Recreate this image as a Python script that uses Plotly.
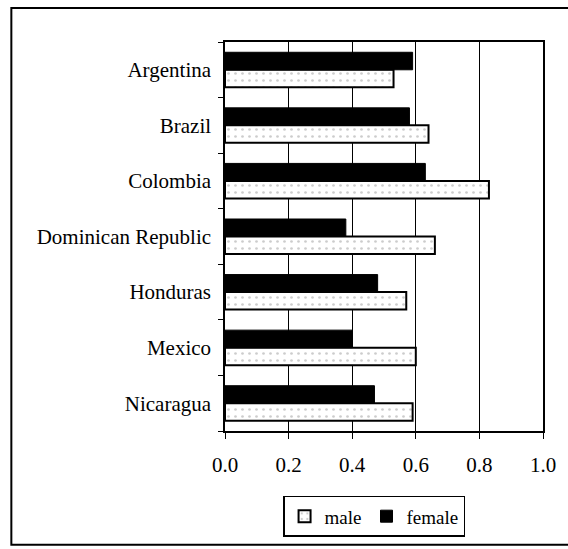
import plotly.graph_objects as go

countries = ["Argentina", "Brazil", "Colombia", "Dominican Republic",
             "Honduras", "Mexico", "Nicaragua"]
male = [0.53, 0.64, 0.83, 0.66, 0.57, 0.60, 0.59]
female = [0.59, 0.58, 0.63, 0.38, 0.48, 0.40, 0.47]
x_ticks = [0.0, 0.2, 0.4, 0.6, 0.8, 1.0]
x_tick_text = ["0.0", "0.2", "0.4", "0.6", "0.8", "1.0"]

FONT = "Liberation Serif"

fig = go.Figure()
fig.add_trace(go.Bar(
    name="male", y=countries, x=male, orientation="h",
    marker=dict(
        color="white",
        line=dict(color="black", width=2),
        pattern=dict(shape=".", size=7, solidity=0.12,
                     fgcolor="#999999", bgcolor="white"),
    ),
))
fig.add_trace(go.Bar(
    name="female", y=countries, x=female, orientation="h",
    marker=dict(color="black", line=dict(color="black", width=1)),
))

W, H = 568, 549
L, R, T, B = 225, 23, 42, 117
pw, ph = W - L - R, H - T - B


def px_to_paper(px, py):
    return (px - L) / pw, (H - B - py) / ph


# outer frame around the whole chart
fx0, fy0 = px_to_paper(10, 8)
fx1, fy1 = px_to_paper(575, 546)

fig.update_layout(
    width=W, height=H,
    margin=dict(l=L, r=R, t=T, b=B),
    paper_bgcolor="white", plot_bgcolor="white",
    barmode="group", bargap=0.37, bargroupgap=0.0,
    font=dict(family=FONT, size=21, color="black"),
    showlegend=True,
    legend=dict(
        orientation="h", x=px_to_paper(375, 0)[0], xanchor="center",
        y=px_to_paper(0, 497)[1], yanchor="top",
        bordercolor="black", borderwidth=1.5, bgcolor="white",
        font=dict(family=FONT, size=19, color="black"),
        itemwidth=30, tracegroupgap=0,
    ),
    xaxis=dict(
        range=[0, 1.0], tickvals=x_ticks, ticktext=x_tick_text,
        showgrid=True, gridcolor="black", gridwidth=1,
        showline=True, linecolor="black", linewidth=1.5, mirror=True,
        ticks="outside", ticklen=6, tickcolor="black",
        tickfont=dict(family=FONT, size=21), zeroline=False,
        ticklabelstandoff=8,
    ),
    yaxis=dict(
        categoryorder="array", categoryarray=countries[::-1],
        showline=True, linecolor="black", linewidth=1.5, mirror=True,
        ticks="outside", ticklen=5, tickcolor="black",
        tickson="boundaries", showgrid=False,
        tickfont=dict(family=FONT, size=21),
        ticklabelstandoff=8,
    ),
    shapes=[dict(
        type="rect", xref="paper", yref="paper",
        x0=fx0, y0=fy1, x1=fx1, y1=fy0,
        line=dict(color="black", width=2), layer="below",
    )],
)

fig.write_html("out.html")
